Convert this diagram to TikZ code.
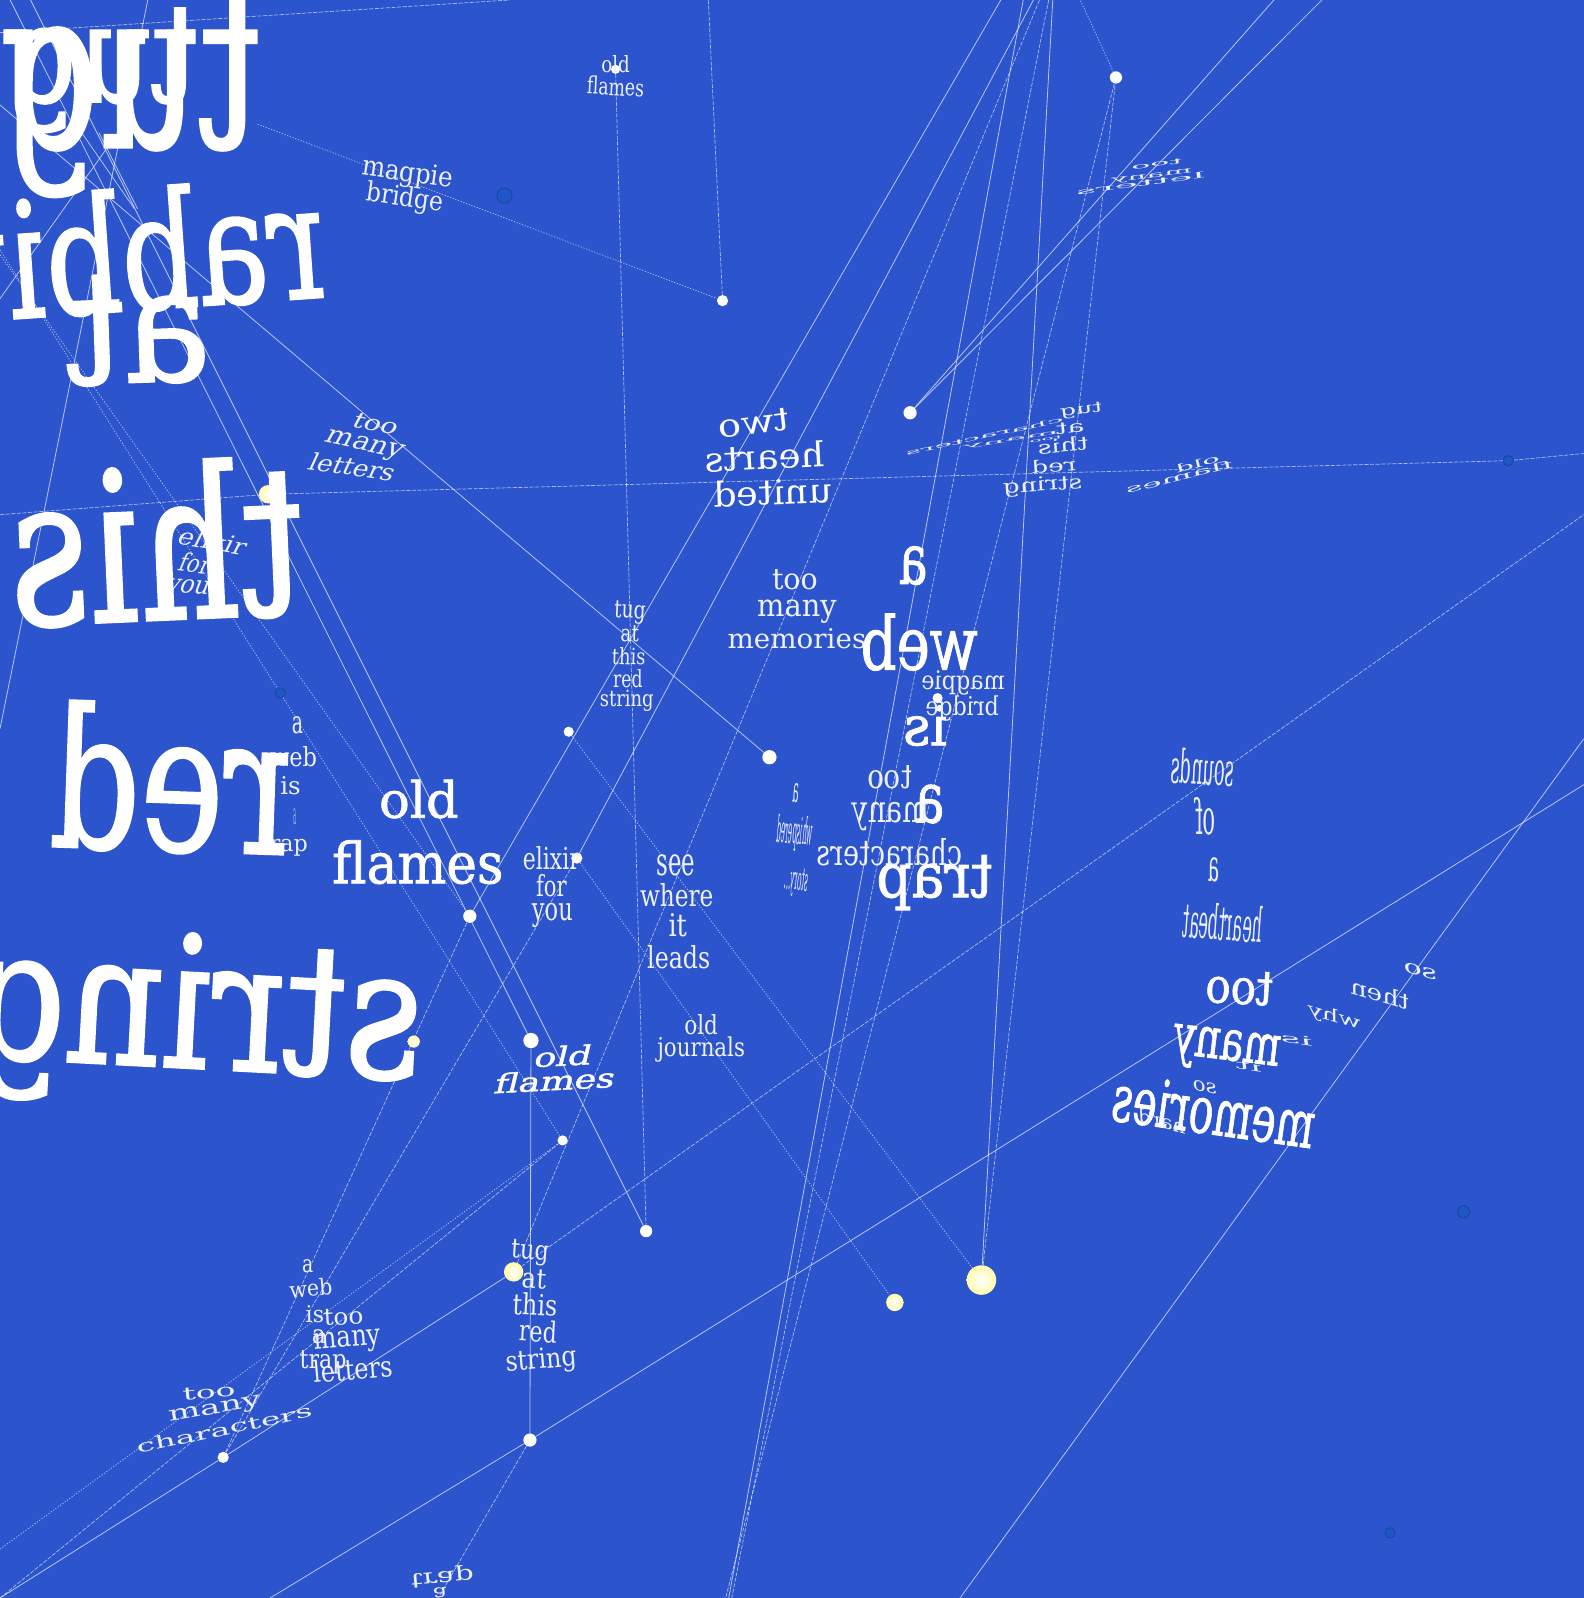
\documentclass[tikz,border=0pt]{standalone}
\usepackage{fontspec}
\usepackage{graphicx}
\setmainfont{DejaVu Serif}
\newfontfamily\heavyface[FakeBold=1.4]{DejaVu Serif}
\definecolor{SkyBlue}{RGB}{44,84,204}
\definecolor{FarDot}{RGB}{28,88,200}
\definecolor{FarRim}{RGB}{34,66,150}
\definecolor{Cream}{RGB}{255,250,170}
\tikzset{
  word/.style={text=white,inner sep=0,transform shape},
  big/.style={font=\heavyface},
  dim/.style={text=white!92!SkyBlue},
  flip/.style={xscale=-1},
  lean/.style={xslant=0.3},
  % Punti
  dot/.style={circle,inner sep=0,fill=white},
  far dot/.style={circle,inner sep=0,fill=FarDot,draw=FarRim,line width=0.8},
  lit dot/.style={circle,inner sep=0,inner color=white,outer color=Cream},
  % Fili
  link/.style={white,opacity=0.65,line width=0.8},
  linkdash/.style={white,opacity=0.6,line width=0.7,dash pattern=on 4 off 1.5},
  linkdot/.style={white,opacity=0.65,line width=0.7,dash pattern=on 1.2 off 1.6}
}
% box of w x h around a word
\newcommand{\fitw}[3]{\resizebox*{#1pt}{#2pt}{#3}}

\begin{document}
\begin{tikzpicture}[x=1pt,y=-1pt]
    \useasboundingbox (0,0) rectangle (1554,1568);
    \clip (0,0) rectangle (1554,1568);
    \fill[SkyBlue] (0,0) rectangle (1554,1568);

    % Punti
    \node[dot,minimum size=9] (dotA) at (604,68) {};
    \node[dot,minimum size=12] (dotB) at (1095,76) {};
    \node[dot,minimum size=11] (dotC) at (709,295) {};
    \node[dot,minimum size=13] (dotD) at (893,405) {};
    \node[dot,minimum size=10] (dotE) at (558,718) {};
    \node[dot,minimum size=14] (dotF) at (755,743) {};
    \node[dot,minimum size=11] (dotG) at (566,842) {};
    \node[dot,minimum size=13] (dotH) at (461,899) {};
    \node[dot,minimum size=15] (dotI) at (521,1021) {};
    \node[dot,minimum size=10] (dotJ) at (552,1119) {};
    \node[dot,minimum size=12] (dotK) at (634,1208) {};
    \node[dot,minimum size=13] (dotL) at (520,1413) {};
    \node[dot,minimum size=11] (dotM) at (219,1430) {};
    \node[lit dot,minimum size=19] (litA) at (504,1248) {};
    \node[lit dot,minimum size=17] (litB) at (878,1278) {};
    \node[lit dot,minimum size=29] (litC) at (963,1256) {};
    \node[lit dot,minimum size=18] (litD) at (263,485) {};
    \node[far dot,minimum size=15] (farA) at (495,192) {};
    \node[far dot,minimum size=10] (farB) at (275,680) {};
    \node[far dot,minimum size=10] (farC) at (1480,452) {};
    \node[far dot,minimum size=12] (farD) at (1436,1189) {};
    \node[far dot,minimum size=10] (farE) at (1364,1504) {};

    % Capi fuori quadro
    \coordinate (topA) at (982,0);
    \coordinate (topB) at (1014,0);
    \coordinate (topC) at (1020,0);
    \coordinate (topD) at (1033,0);
    \coordinate (topE) at (1004,0);
    \coordinate (topF) at (1029,0);
    \coordinate (topG) at (1060,0);
    \coordinate (topH) at (1250,0);
    \coordinate (topI) at (1297,0);
    \coordinate (topJ) at (695,0);
    \coordinate (topK) at (500,0);
    \coordinate (topL) at (30,0);
    \coordinate (topM) at (10,0);
    \coordinate (topN) at (145,0);
    \coordinate (leftA) at (0,32);
    \coordinate (leftB) at (0,505);
    \coordinate (leftC) at (0,715);
    \coordinate (leftD) at (0,293);
    \coordinate (leftE) at (0,245);
    \coordinate (leftF) at (0,250);
    \coordinate (leftG) at (0,103);
    \coordinate (leftH) at (0,1568);
    \coordinate (leftI) at (0,1520);
    \coordinate (leftJ) at (0,1568);
    \coordinate (rightA) at (1554,445);
    \coordinate (rightB) at (1554,505);
    \coordinate (rightC) at (1554,770);
    \coordinate (rightD) at (1554,725);
    \coordinate (lowA) at (265,1568);
    \coordinate (lowB) at (942,1568);
    \coordinate (lowC) at (715,1568);
    \coordinate (lowD) at (718,1568);
    \coordinate (lowE) at (712,1568);
    \coordinate (lowF) at (430,1568);
    \coordinate (crossA) at (130,110);
    \coordinate (crossB) at (80,130);
    \coordinate (crossC) at (132,205);
    \coordinate (crossD) at (97,130);
    \coordinate (crossE) at (135,205);
    \coordinate (backA) at (253,122);

    % Fili
    \draw[linkdash] (leftB)--(litD)--(farC)--(rightA);
    \draw[linkdash] (leftA)--(topK);
    \draw[link] (topL)--(dotK);
    \draw[link] (topM)--(dotI);
    \draw[link] (topN)--(leftC);
    \draw[link] (crossA)--(leftD);
    \draw[link] (crossB)--(crossC);
    \draw[link] (crossD)--(crossE);
    \draw[linkdot] (leftE)--(farB)--(dotJ);
    \draw[linkdot] (leftF)--(dotH);
    \draw[linkdot] (backA)--(dotC);
    \draw[linkdash] (topJ)--(dotC);
    \draw[linkdash] (dotA)--(dotK);
    \draw[link] (leftG)--(dotF);
    \draw[link] (dotD)--(topH);
    \draw[link] (dotD)--(topI);
    \draw[linkdot] (dotB)--(topG);
    \draw[linkdash] (litC)--(dotB);
    \draw[link] (litC)--(topD);
    \draw[linkdash] (dotB)--(lowE);
    \draw[link] (topE)--(lowC);
    \draw[linkdash] (topF)--(lowD);
    \draw[linkdot] (dotE)--(litC);
    \draw[linkdot] (dotG)--(litB);
    \draw[link] (leftH)--(dotM)--(litA);
    \draw[linkdash] (litA)--(rightB);
    \draw[link] (lowA)--(dotL)--(rightC);
    \draw[link] (rightD)--(lowB);
    \draw[linkdot] (leftI)--(dotJ);
    \draw[linkdash] (leftJ)--(dotJ);
    \draw[linkdash] (dotM)--(dotH);
    \draw[link] (dotH)--(topA);
    \draw[linkdash] (dotM)--(dotG);
    \draw[link] (dotG)--(topB);
    \draw[linkdash] (litA)--(topC);
    \draw[link] (dotI)--(dotL);
    \draw[linkdash] (dotL)--(lowF);

    % Parole lontane
    \node[word,dim,rotate=7,flip] (farTooA) at (1135,161) {\fitw{50}{5}{too}};
    \node[word,dim,rotate=7,flip] (farManyA) at (1130,173) {\fitw{80}{6}{many}};
    \node[word,dim,rotate=8,flip] (farLettersA) at (1119,180) {\fitw{128}{6}{letters}};
    \node[word,dim,rotate=12,flip] (farChars) at (966,428) {\fitw{158}{5}{characters}};
    \node[word,dim,rotate=9,flip] (farMany) at (992,432) {\fitw{96}{4}{many}};
    \node[word,dim,rotate=8,flip] (farToo) at (1026,431) {\fitw{32}{3}{too}};
    \node[word,dim,rotate=8,flip] (farTug) at (1061,403) {\fitw{42}{13}{tug}};
    \node[word,dim,rotate=6,flip] (farAt) at (1050,420) {\fitw{28}{11}{at}};
    \node[word,dim,rotate=5,flip] (farThis) at (1043,437) {\fitw{50}{14}{this}};
    \node[word,dim,rotate=4,flip] (farRed) at (1034,457) {\fitw{44}{13}{red}};
    \node[word,dim,rotate=4,flip] (farString) at (1023,477) {\fitw{78}{18}{string}};
    \node[word,dim,rotate=15,flip] (farOld) at (1175,455) {\fitw{44}{8}{old}};
    \node[word,dim,rotate=14,flip] (farFlames) at (1157,468) {\fitw{108}{8}{flames}};

    % Parole in alto
    \node[word,dim] (oldA) at (604,63) {\fitw{28}{17}{old}};
    \node[word,dim,rotate=-3] (flamesA) at (604,85) {\fitw{56}{18}{flames}};
    \node[word,dim,rotate=-8] (magpieA) at (400,171) {\fitw{90}{26}{magpie}};
    \node[word,dim,rotate=-8] (bridgeA) at (397,195) {\fitw{76}{26}{bridge}};
    \node[word,dim,rotate=-12,lean] (tooA) at (369,416) {\fitw{44}{15}{too}};
    \node[word,dim,rotate=-12,lean] (manyA) at (357,438) {\fitw{76}{19}{many}};
    \node[word,dim,rotate=-8,lean] (lettersA) at (346,458) {\fitw{84}{18}{letters}};
    \node[word,dim,rotate=-10,lean] (elixirA) at (209,531) {\fitw{66}{18}{elixir}};
    \node[word,dim,rotate=-6,lean] (forA) at (192,553) {\fitw{30}{19}{for}};
    \node[word,dim,rotate=-4,lean] (youA) at (184,578) {\fitw{42}{19}{you}};
    \node[word,rotate=7,flip] (twoA) at (740,415) {\fitw{70}{22}{two}};
    \node[word,rotate=3,flip] (heartsA) at (750,448) {\fitw{118}{26}{hearts}};
    \node[word,rotate=2,flip] (unitedA) at (758,483) {\fitw{116}{26}{united}};
    \node[word,dim] (tooB) at (780,569) {\fitw{45}{20}{too}};
    \node[word,dim] (manyB) at (782,600) {\fitw{78}{23}{many}};
    \node[word,dim] (memoriesB) at (782,627) {\fitw{136}{20}{memories}};

    % Parole al centro
    \node[word,big,flip] (aC) at (896,555) {\fitw{28}{38}{a}};
    \node[word,big,flip] (webC) at (902,630) {\fitw{115}{56}{web}};
    \node[word,big,flip] (isC) at (908,712) {\fitw{44}{40}{is}};
    \node[word,big,flip] (aD) at (912,789) {\fitw{29}{38}{a}};
    \node[word,big,flip] (trapC) at (917,866) {\fitw{114}{54}{trap}};
    \node[word,dim,flip] (magpieC) at (945,670) {\fitw{82}{24}{magpie}};
    \node[word,dim,flip] (bridgeC) at (944,695) {\fitw{72}{25}{bridge}};
    \node[word,dim,flip] (tooC) at (873,763) {\fitw{44}{23}{too}};
    \node[word,dim,flip] (manyC) at (874,801) {\fitw{76}{28}{many}};
    \node[word,dim,flip] (charC) at (873,836) {\fitw{143}{27}{characters}};
    \node[word,dim,rotate=-3] (tugD) at (618,601) {\fitw{31}{22}{tug}};
    \node[word,dim,rotate=-2] (atD) at (618,622) {\fitw{18}{16}{at}};
    \node[word,dim,rotate=-2] (thisD) at (617,644) {\fitw{33}{17}{this}};
    \node[word,dim] (redD) at (616,666) {\fitw{29}{18}{red}};
    \node[word,dim] (stringD) at (615,688) {\fitw{53}{21}{string}};
    \node[word,dim,rotate=-4,flip] (aE) at (781,778) {\fitw{6}{19}{a}};
    \node[word,dim,rotate=-5,flip] (whisperedE) at (780,818) {\fitw{35}{35}{whispered}};
    \node[word,dim,rotate=-6,flip] (storyE) at (781,866) {\fitw{23}{28}{story...}};
    \node[word,dim] (elixirF) at (541,842) {\fitw{56}{23}{elixir}};
    \node[word,dim] (forF) at (541,869) {\fitw{30}{22}{for}};
    \node[word,dim] (youF) at (542,898) {\fitw{40}{24}{you}};
    \node[word,big] (oldF) at (411,784) {\fitw{78}{38}{old}};
    \node[word,big] (flamesF) at (410,846) {\fitw{168}{43}{flames}};
    \node[word,dim] (seeG) at (663,849) {\fitw{38}{21}{see}};
    \node[word,dim] (whereG) at (664,878) {\fitw{72}{23}{where}};
    \node[word,dim] (itG) at (665,908) {\fitw{18}{23}{it}};
    \node[word,dim] (leadsG) at (666,939) {\fitw{62}{23}{leads}};
    \node[word,dim] (oldH) at (688,1005) {\fitw{33}{20}{old}};
    \node[word,dim] (journalsH) at (688,1030) {\fitw{86}{25}{journals}};
    \node[word,big,rotate=3,lean] (oldI) at (553,1036) {\fitw{56}{20}{old}};
    \node[word,big,rotate=3,lean] (flamesI) at (545,1060) {\fitw{118}{20}{flames}};
    \node[word,dim] (aJ) at (292,712) {\fitw{11}{17}{a}};
    \node[word,dim] (webJ) at (288,742) {\fitw{46}{20}{web}};
    \node[word,dim] (isJ) at (285,771) {\fitw{20}{18}{is}};
    \node[word,dim,opacity=0.6] (aK) at (289,801) {\fitw{3}{16}{a}};
    \node[word,dim] (trapJ) at (279,830) {\fitw{46}{20}{trap}};

    % Parole a destra
    \node[word,dim,rotate=-3,flip] (soundsL) at (1180,753) {\fitw{62}{35}{sounds}};
    \node[word,dim,flip] (ofL) at (1183,801) {\fitw{20}{37}{of}};
    \node[word,dim,flip] (aL) at (1191,854) {\fitw{11}{24}{a}};
    \node[word,dim,rotate=-4,flip] (heartbeatL) at (1200,905) {\fitw{78}{36}{heartbeat}};
    \node[word,big,rotate=-3,flip] (tooM) at (1216,969) {\fitw{66}{33}{too}};
    \node[word,big,rotate=-7,flip] (manyM) at (1203,1031) {\fitw{106}{42}{many}};
    \node[word,big,rotate=-8,flip] (memoriesM) at (1191,1090) {\fitw{200}{48}{memories}};
    \node[word,dim,rotate=-14,flip,lean] (soN) at (1394,953) {\fitw{34}{10}{so}};
    \node[word,dim,rotate=-16,flip,lean] (thenN) at (1354,975) {\fitw{60}{16}{then}};
    \node[word,dim,rotate=-16,flip,lean] (whyN) at (1309,998) {\fitw{54}{16}{why}};
    \node[word,dim,rotate=-8,flip,lean] (isN) at (1272,1020) {\fitw{32}{9}{is}};
    \node[word,dim,rotate=-8,flip,lean] (itN) at (1225,1046) {\fitw{26}{9}{it}};
    \node[word,dim,rotate=-12,flip,lean] (soO) at (1182,1067) {\fitw{24}{10}{so}};
    \node[word,dim,rotate=-14,flip,lean] (hardO) at (1140,1100) {\fitw{48}{14}{hard}};

    % Parole in basso
    \node[word,dim,rotate=5] (tooP) at (205,1366) {\fitw{52}{12}{too}};
    \node[word,dim,rotate=10] (manyP) at (211,1384) {\fitw{92}{15}{many}};
    \node[word,dim,rotate=12] (charP) at (220,1402) {\fitw{176}{13}{characters}};
    \node[word,dim] (aQ) at (302,1242) {\fitw{11}{13}{a}};
    \node[word,dim,rotate=5] (webQ) at (305,1264) {\fitw{42}{17}{web}};
    \node[word,dim] (isQ) at (309,1289) {\fitw{18}{17}{is}};
    \node[word,dim] (aR) at (313,1312) {\fitw{14}{14}{a}};
    \node[word,dim] (trapQ) at (317,1337) {\fitw{46}{23}{trap}};
    \node[word,dim,rotate=3] (tooQ) at (337,1292) {\fitw{39}{16}{too}};
    \node[word,dim,rotate=5] (manyQ) at (341,1317) {\fitw{66}{22}{many}};
    \node[word,dim,rotate=5] (lettersQ) at (346,1343) {\fitw{78}{22}{letters}};
    \node[word,dim,rotate=-4] (tugS) at (520,1229) {\fitw{37}{24}{tug}};
    \node[word,dim,rotate=-4] (atS) at (524,1255) {\fitw{24}{19}{at}};
    \node[word,dim,rotate=-3] (thisS) at (525,1280) {\fitw{44}{22}{this}};
    \node[word,dim,rotate=-3] (redS) at (528,1306) {\fitw{37}{22}{red}};
    \node[word,dim,rotate=5] (stringS) at (531,1336) {\fitw{70}{26}{string}};
    \node[word,dim,rotate=5,yscale=-1] (trapT) at (434,1547) {\fitw{62}{18}{trap}};
    \node[word,dim,rotate=5,yscale=-1] (aT) at (432,1563) {\fitw{14}{10}{a}};

    % Parole vicine
    \node[word,big,flip] (tugU) at (98,69) {\fitw{192}{122}{tug}};
    \node[word,big,flip] (tugV) at (128,94) {\fitw{256}{198}{tug}};
    \node[word,big,rotate=4,flip] (rabbitU) at (139,245) {\fitw{358}{122}{rabbit}};
    \node[word,big,rotate=2,flip] (atU) at (135,323) {\fitw{142}{108}{at}};
    \node[word,big,rotate=2.5,flip] (thisU) at (153,532) {\fitw{290}{158}{this}};
    \node[word,big,rotate=-2,flip] (redU) at (168,764) {\fitw{236}{146}{red}};
    \node[word,big,rotate=-3,flip] (stringU) at (192,1002) {\fitw{446}{172}{string}};

    % Punti davanti alle parole
    \node[lit dot,minimum size=12] (litE) at (406,1022) {};
    \node[dot,minimum size=10] (dotN) at (920,685) {};
\end{tikzpicture}
\end{document}
